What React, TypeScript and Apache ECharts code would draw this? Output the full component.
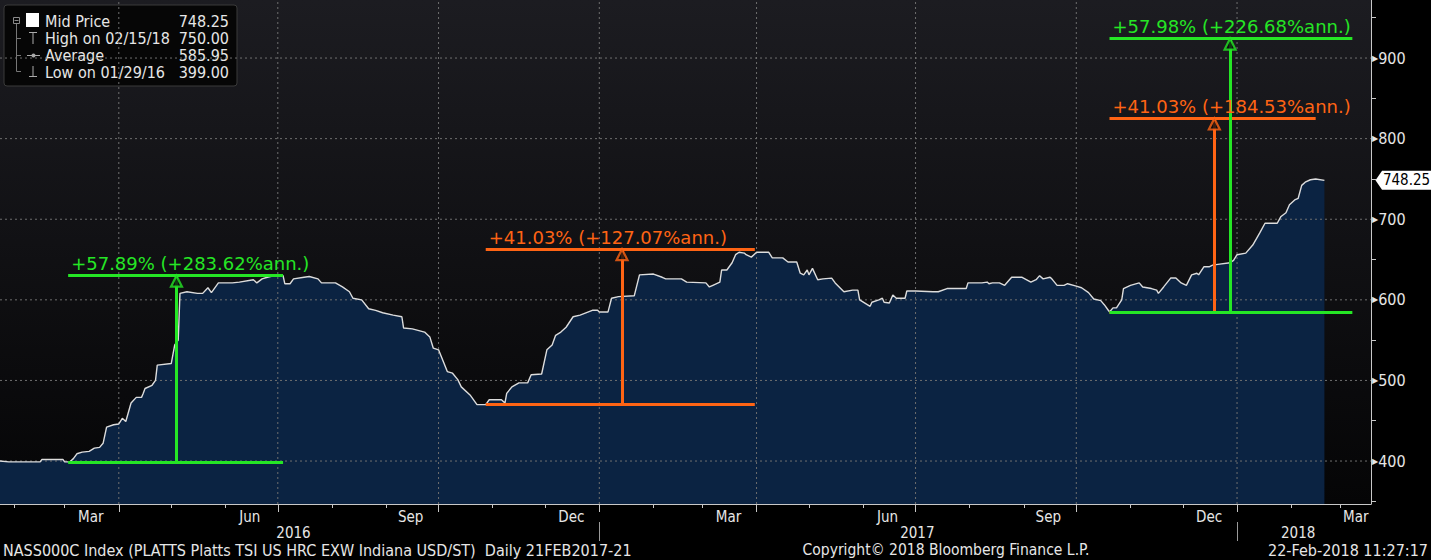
import React, { useEffect, useRef } from "react";
import * as echarts from "echarts";

// ---- data ----
const midPrice: [string, number][] = [
  ["2016-01-24", 400], ["2016-01-29", 399], ["2016-02-16", 399], ["2016-02-17", 402], ["2016-02-29", 402],
  ["2016-03-01", 399], ["2016-03-04", 399], ["2016-03-06", 403], ["2016-03-08", 409], ["2016-03-11", 411],
  ["2016-03-15", 412], ["2016-03-18", 416], ["2016-03-21", 417], ["2016-03-23", 422], ["2016-03-25", 442],
  ["2016-03-29", 445], ["2016-04-01", 446], ["2016-04-03", 453], ["2016-04-05", 449], ["2016-04-08", 472],
  ["2016-04-11", 479], ["2016-04-14", 479], ["2016-04-15", 484], ["2016-04-16", 490], ["2016-04-20", 494],
  ["2016-04-22", 500], ["2016-04-23", 519], ["2016-05-01", 521], ["2016-05-03", 544], ["2016-05-05", 550],
  ["2016-05-06", 608], ["2016-05-10", 610], ["2016-05-16", 608], ["2016-05-19", 608], ["2016-05-22", 615],
  ["2016-05-24", 609], ["2016-05-28", 621], ["2016-06-05", 621], ["2016-06-09", 622], ["2016-06-17", 625],
  ["2016-06-19", 621], ["2016-06-22", 626], ["2016-06-25", 628], ["2016-06-28", 629.5], ["2016-07-04", 630],
  ["2016-07-05", 620], ["2016-07-08", 620], ["2016-07-10", 626], ["2016-07-16", 628], ["2016-07-19", 629],
  ["2016-07-24", 626], ["2016-07-26", 621], ["2016-08-03", 621], ["2016-08-07", 616], ["2016-08-11", 610],
  ["2016-08-13", 602], ["2016-08-18", 600], ["2016-08-22", 589], ["2016-08-26", 587], ["2016-08-30", 584],
  ["2016-09-05", 581], ["2016-09-10", 579], ["2016-09-11", 565], ["2016-09-16", 564], ["2016-09-23", 560],
  ["2016-09-26", 554], ["2016-09-28", 540], ["2016-10-01", 538], ["2016-10-04", 522], ["2016-10-06", 511],
  ["2016-10-09", 509], ["2016-10-12", 501], ["2016-10-14", 492], ["2016-10-19", 482], ["2016-10-23", 470],
  ["2016-10-28", 470], ["2016-10-30", 476], ["2016-11-06", 476], ["2016-11-08", 472], ["2016-11-09", 484],
  ["2016-11-12", 492], ["2016-11-16", 497], ["2016-11-21", 497], ["2016-11-23", 507], ["2016-11-29", 508],
  ["2016-12-02", 538], ["2016-12-05", 544], ["2016-12-07", 556], ["2016-12-10", 560], ["2016-12-13", 566],
  ["2016-12-17", 579], ["2016-12-21", 581], ["2016-12-28", 587], ["2016-12-31", 587], ["2017-01-01", 585],
  ["2017-01-06", 585], ["2017-01-08", 602], ["2017-01-12", 604], ["2017-01-21", 605], ["2017-01-24", 631],
  ["2017-02-01", 632], ["2017-02-06", 628], ["2017-02-08", 626], ["2017-02-17", 626], ["2017-02-20", 622],
  ["2017-03-03", 621], ["2017-03-05", 616], ["2017-03-07", 618], ["2017-03-11", 622], ["2017-03-12", 637],
  ["2017-03-15", 637], ["2017-03-18", 646], ["2017-03-20", 656], ["2017-03-22", 659], ["2017-03-25", 658],
  ["2017-03-26", 656], ["2017-03-29", 653], ["2017-04-01", 659], ["2017-04-08", 659], ["2017-04-10", 652],
  ["2017-04-16", 652], ["2017-04-19", 647], ["2017-04-24", 647], ["2017-04-26", 633], ["2017-04-28", 631],
  ["2017-04-30", 637], ["2017-05-01", 631], ["2017-05-03", 639], ["2017-05-06", 625], ["2017-05-09", 626],
  ["2017-05-14", 627], ["2017-05-16", 621], ["2017-05-21", 610], ["2017-05-26", 612], ["2017-05-29", 612],
  ["2017-05-30", 600], ["2017-06-02", 596], ["2017-06-05", 592], ["2017-06-06", 597], ["2017-06-10", 600],
  ["2017-06-12", 602], ["2017-06-13", 597], ["2017-06-16", 596], ["2017-06-18", 606], ["2017-06-20", 602],
  ["2017-06-25", 602], ["2017-06-26", 611], ["2017-07-01", 611], ["2017-07-11", 610], ["2017-07-14", 610],
  ["2017-07-19", 614], ["2017-07-30", 614], ["2017-07-31", 621], ["2017-08-08", 621], ["2017-08-11", 622],
  ["2017-08-12", 620], ["2017-08-14", 621], ["2017-08-18", 621], ["2017-08-21", 618], ["2017-08-25", 628],
  ["2017-08-31", 628], ["2017-09-05", 622], ["2017-09-08", 625], ["2017-09-10", 630], ["2017-09-12", 626],
  ["2017-09-16", 628], ["2017-09-17", 626], ["2017-09-20", 618], ["2017-09-24", 618], ["2017-09-26", 620],
  ["2017-10-01", 617], ["2017-10-04", 615], ["2017-10-08", 609], ["2017-10-11", 601], ["2017-10-15", 599],
  ["2017-10-17", 594], ["2017-10-19", 588], ["2017-10-20", 585], ["2017-10-22", 590], ["2017-10-24", 590],
  ["2017-10-27", 600], ["2017-10-28", 614], ["2017-11-01", 618], ["2017-11-06", 621], ["2017-11-08", 616],
  ["2017-11-13", 614], ["2017-11-16", 612], ["2017-11-17", 608], ["2017-11-20", 616], ["2017-11-24", 627],
  ["2017-11-27", 627], ["2017-11-30", 621], ["2017-12-03", 618], ["2017-12-06", 631], ["2017-12-09", 633],
  ["2017-12-10", 631], ["2017-12-13", 641], ["2017-12-16", 641], ["2017-12-18", 643], ["2017-12-21", 644],
  ["2017-12-28", 646], ["2017-12-30", 649], ["2018-01-01", 656], ["2018-01-06", 658], ["2018-01-10", 668],
  ["2018-01-14", 683], ["2018-01-17", 695], ["2018-01-24", 695], ["2018-01-26", 703], ["2018-01-29", 708],
  ["2018-01-31", 718], ["2018-02-03", 724], ["2018-02-05", 726], ["2018-02-07", 742], ["2018-02-09", 746],
  ["2018-02-12", 749], ["2018-02-15", 750], ["2018-02-20", 748.25],
];

const lastPriceLabel = "748.25";

const legendNames = ["Mid Price", "High on 02/15/18", "Average", "Low on 01/29/16"];
const legendValues = ["748.25", "750.00", "585.95", "399.00"];

const yTickValues = [400, 500, 600, 700, 800, 900];
const yMinorTicks = [350, 450, 550, 650, 750, 850, 950];

const monthLabels = ["Mar", "Jun", "Sep", "Dec", "Mar", "Jun", "Sep", "Dec", "Mar"];
const monthLabelDates = [
  "2016-03-16", "2016-06-15", "2016-09-15", "2016-12-16",
  "2017-03-16", "2017-06-15", "2017-09-15", "2017-12-16", "2018-03-10",
];
const yearLabels = ["2016", "2017", "2018"];
const yearLabelDates = ["2016-07-10", "2017-07-02", "2018-02-05"];
const yearSeparators = ["2017-01-01", "2018-01-01"];
const quarterStarts = [
  "2016-04-01", "2016-07-01", "2016-10-01", "2017-01-01",
  "2017-04-01", "2017-07-01", "2017-10-01", "2018-01-01",
];

// annotations (price-change measurements)
const annoColors = ["#25e625", "#ff6414", "#ff6414", "#25e625"];
const annoStart = ["2016-03-03", "2016-10-28", "2017-10-20", "2017-10-20"];
const annoEnd = ["2016-07-04", "2017-03-31", "2018-02-15", "2018-03-08"];
const annoArrow = ["2016-05-04", "2017-01-14", "2017-12-19", "2017-12-28"];
const annoLow = [399, 470, 585, 585];
const annoHigh = [630, 662.84, 825, 924.2];
const annoLabels = [
  "+57.89% (+283.62%ann.)",
  "+41.03% (+127.07%ann.)",
  "+41.03% (+184.53%ann.)",
  "+57.98% (+226.68%ann.)",
];

const footerLeft = "NASS000C Index (PLATTS Platts TSI US HRC EXW Indiana USD/ST)  Daily 21FEB2017-21";
const footerMid = "Copyright\u00a9 2018 Bloomberg Finance L.P.";
const footerRight = "22-Feb-2018 11:27:17";

const X_MIN = "2016-01-24";
const X_MAX = "2018-03-18T16:00:00Z";
const Y_MIN = 346.7;
const Y_MAX = 972;

const ts = (d: string) => Date.parse(d.length === 10 ? d + "T00:00:00Z" : d);

const COND = "DejaVu Sans Condensed";

export default function App() {
  const ref = useRef<HTMLDivElement>(null);

  useEffect(() => {
    if (!ref.current) return;
    const chart = echarts.init(ref.current, undefined, { renderer: "svg" });

    const xMin = ts(X_MIN);
    const xMax = ts(X_MAX);
    const priceData = midPrice.map(([d, v]) => [ts(d), v]);

    const monthStarts: number[] = [];
    for (let y = 2016; y <= 2018; y++) {
      for (let m = 0; m < 12; m++) {
        const t = Date.UTC(y, m, 1);
        if (t >= xMin && t <= xMax) monthStarts.push(t);
      }
    }
    const monthLabelTs = monthLabelDates.map(ts);
    const yearLabelTs = yearLabelDates.map(ts);

    // grid line items: [x, y, kind] kind 0 = horizontal at y, 1 = vertical at x
    const gridItems: number[][] = [
      ...yTickValues.map((v) => [xMin, v, 0]),
      ...quarterStarts.map((d) => [ts(d), Y_MIN, 1]),
    ];

    const annoLines: any[] = [];
    annoColors.forEach((c, i) => {
      const s = ts(annoStart[i]);
      const e = ts(annoEnd[i]);
      const a = ts(annoArrow[i]);
      const ls = { color: c, width: 3, type: "solid" };
      annoLines.push([
        { coord: [s, annoLow[i]], lineStyle: ls, label: { show: false } },
        { coord: [e, annoLow[i]] },
      ]);
      annoLines.push([
        { coord: [a, annoLow[i]], lineStyle: ls, label: { show: false } },
        { coord: [a, annoHigh[i]] },
      ]);
      annoLines.push([
        {
          coord: [s, annoHigh[i]],
          lineStyle: ls,
          label: {
            show: true,
            formatter: annoLabels[i],
            position: "insideStartTop",
            color: c,
            fontSize: 18,
            fontFamily: "DejaVu Sans",
            distance: 3,
          },
        },
        { coord: [e, annoHigh[i]] },
      ]);
    });

    const arrowData = annoColors.map((c, i) => ({
      value: [ts(annoArrow[i]), annoHigh[i]],
      itemStyle: { color: "#0a0a0c", borderColor: c, borderWidth: 2.2 },
    }));

    const textFill = "#e6e6e6";
    const LF = 16;
    const legendGraphic: any[] = [
      {
        type: "rect",
        shape: { x: 4, y: 5, width: 233, height: 81, r: 3 },
        style: { fill: "#060606", stroke: "#3a3a3a", lineWidth: 1 },
      },
      { type: "rect", shape: { x: 13.5, y: 17.5, width: 6, height: 6 }, style: { fill: "none", stroke: "#8a8a8a" } },
      { type: "line", shape: { x1: 14.5, y1: 20.5, x2: 18.5, y2: 20.5 }, style: { stroke: "#8a8a8a" } },
      { type: "line", shape: { x1: 16.5, y1: 24, x2: 16.5, y2: 71.5 }, style: { stroke: "#777" } },
      { type: "line", shape: { x1: 16.5, y1: 38.5, x2: 21, y2: 38.5 }, style: { stroke: "#777" } },
      { type: "line", shape: { x1: 16.5, y1: 55.5, x2: 21, y2: 55.5 }, style: { stroke: "#777" } },
      { type: "line", shape: { x1: 16.5, y1: 71.5, x2: 21, y2: 71.5 }, style: { stroke: "#777" } },
      { type: "rect", shape: { x: 26, y: 13, width: 13, height: 14 }, style: { fill: "#ffffff" } },
      { type: "line", shape: { x1: 29, y1: 32.5, x2: 37, y2: 32.5 }, style: { stroke: "#aaa" } },
      { type: "line", shape: { x1: 33, y1: 32.5, x2: 33, y2: 44 }, style: { stroke: "#aaa" } },
      { type: "line", shape: { x1: 27, y1: 55.5, x2: 40, y2: 55.5 }, style: { stroke: "#aaa" } },
      { type: "circle", shape: { cx: 33.5, cy: 55.5, r: 2 }, style: { fill: "#aaa" } },
      { type: "line", shape: { x1: 33, y1: 66, x2: 33, y2: 76.5 }, style: { stroke: "#aaa" } },
      { type: "line", shape: { x1: 29, y1: 76.5, x2: 37, y2: 76.5 }, style: { stroke: "#aaa" } },
    ];
    legendNames.forEach((n, i) => {
      const y = 21 + i * 17;
      legendGraphic.push({
        type: "text",
        x: 45,
        y,
        style: { text: n, fill: textFill, fontSize: LF, fontFamily: COND, verticalAlign: "middle", align: "left" },
      });
      legendGraphic.push({
        type: "text",
        x: 229,
        y,
        style: { text: legendValues[i], fill: textFill, fontSize: LF, fontFamily: COND, verticalAlign: "middle", align: "right" },
      });
    });

    const FF = 16;
    const footerGraphic: any[] = [
      { type: "text", x: 3, y: 550, style: { text: footerLeft, fill: textFill, fontSize: FF, fontFamily: COND, verticalAlign: "middle", align: "left" } },
      { type: "text", x: 946, y: 550, style: { text: footerMid, fill: textFill, fontSize: 15.5, fontFamily: COND, verticalAlign: "middle", align: "center" } },
      { type: "text", x: 1428, y: 550, style: { text: footerRight, fill: textFill, fontSize: FF, fontFamily: COND, verticalAlign: "middle", align: "right" } },
    ];

    const axisColor = "#c8c8c8";

    const option: any = {
      animation: false,
      backgroundColor: "#000000",
      grid: {
        left: 0,
        right: 60,
        top: 0,
        bottom: 56,
        show: true,
        borderWidth: 0,
        backgroundColor: new echarts.graphic.LinearGradient(0, 0, 0, 1, [
          { offset: 0, color: "#1c1c21" },
          { offset: 1, color: "#050506" },
        ]),
      },
      xAxis: [
        {
          type: "value",
          min: xMin,
          max: xMax,
          position: "bottom",
          axisLine: { show: true, lineStyle: { color: axisColor, width: 1 } },
          axisTick: { show: true, customValues: monthStarts, length: 4, lineStyle: { color: axisColor } },
          axisLabel: {
            show: true,
            customValues: monthLabelTs,
            formatter: (v: number) => {
              const i = monthLabelTs.indexOf(v);
              return i >= 0 ? monthLabels[i] : "";
            },
            color: textFill,
            fontSize: 15,
            fontFamily: COND,
            margin: 5,
          },
          splitLine: { show: false },
        },
        {
          type: "value",
          min: xMin,
          max: xMax,
          position: "bottom",
          axisLine: { show: false },
          axisTick: { show: true, customValues: quarterStarts.map(ts), length: 8, lineStyle: { color: axisColor } },
          axisLabel: { show: false },
          splitLine: { show: false },
        },
        {
          type: "value",
          min: xMin,
          max: xMax,
          position: "bottom",
          offset: 18,
          axisLine: { show: false },
          axisTick: { show: true, customValues: yearSeparators.map(ts), length: 19, lineStyle: { color: "#9a9a9a" } },
          axisLabel: {
            show: true,
            customValues: yearLabelTs,
            formatter: (v: number) => {
              const i = yearLabelTs.indexOf(v);
              return i >= 0 ? yearLabels[i] : "";
            },
            color: textFill,
            fontSize: 15,
            fontFamily: COND,
            margin: 3,
          },
          splitLine: { show: false },
        },
      ],
      yAxis: {
        type: "value",
        position: "right",
        min: Y_MIN,
        max: Y_MAX,
        axisLine: { show: true, lineStyle: { color: axisColor, width: 1 } },
        axisTick: { show: true, customValues: yMinorTicks, length: 5, lineStyle: { color: axisColor } },
        axisLabel: {
          show: true,
          customValues: yTickValues,
          margin: 1,
          formatter: (v: number) => "{t|\u25B6}{v|" + v + "}",
          rich: {
            t: { fontSize: 8, color: textFill, fontFamily: "DejaVu Sans" },
            v: { fontSize: 16, color: textFill, fontFamily: COND },
          },
        },
        splitLine: { show: false },
      },
      series: [
        {
          name: "area",
          type: "line",
          data: priceData,
          showSymbol: false,
          lineStyle: { width: 0, opacity: 0 },
          areaStyle: { color: "#0b2342", opacity: 1 },
          z: 1,
          silent: true,
        },
        {
          name: "gridlines",
          type: "custom",
          data: gridItems,
          silent: true,
          z: 3,
          clip: false,
          renderItem: (params: any, api: any) => {
            const x = api.value(0);
            const y = api.value(1);
            const kind = api.value(2);
            const p1 = kind === 0 ? api.coord([xMin, y]) : api.coord([x, Y_MIN]);
            const p2 = kind === 0 ? api.coord([xMax, y]) : api.coord([x, Y_MAX]);
            return {
              type: "line",
              shape: { x1: p1[0], y1: p1[1], x2: p2[0], y2: p2[1] },
              style: { stroke: "#6f6f6f", lineWidth: 1, lineDash: [2, 3] },
            };
          },
        },
        {
          name: "Mid Price",
          type: "line",
          data: priceData,
          showSymbol: false,
          lineStyle: { color: "#dcdcdc", width: 1.4 },
          z: 4,
          silent: true,
          markPoint: {
            z: 8,
            silent: true,
            data: [
              {
                coord: [xMax, midPrice[midPrice.length - 1][1]],
                symbol: "path://M0,9 L7,0 L60,0 L60,18 L7,18 Z",
                symbolSize: [56, 19],
                symbolKeepAspect: false,
                symbolOffset: [32.5, 0],
                itemStyle: { color: "#ffffff" },
                label: {
                  show: true,
                  position: "inside",
                  offset: [3, 0],
                  formatter: lastPriceLabel,
                  color: "#000",
                  fontSize: 15,
                  fontFamily: COND,
                },
              },
            ],
          },
        },
        {
          name: "annotations",
          type: "line",
          data: [],
          silent: true,
          markLine: {
            z: 6,
            silent: true,
            symbol: ["none", "none"],
            data: annoLines,
          },
        },
        {
          name: "arrows",
          type: "scatter",
          data: arrowData,
          symbol: "triangle",
          symbolSize: [11, 11],
          symbolOffset: [0, 5.5],
          z: 7,
          silent: true,
        },
      ],
      graphic: [
        { type: "group", z: 100, children: legendGraphic },
        { type: "group", z: 100, children: footerGraphic },
      ],
    };

    chart.setOption(option);
    return () => chart.dispose();
  }, []);

  return (
    <div
      ref={ref}
      style={{ position: "fixed", left: 0, top: 0, width: 1431, height: 560, background: "#000" }}
    />
  );
}
